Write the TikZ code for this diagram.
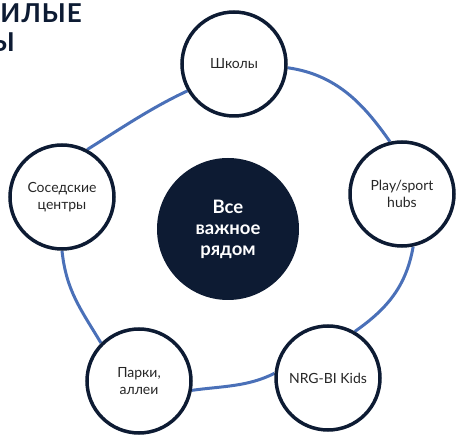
\documentclass[tikz,border=0pt]{standalone}
\usepackage{fontspec}
\setmainfont{Lato}
\usetikzlibrary{backgrounds}
\definecolor{navy}{HTML}{0D1B33}
\definecolor{ringblue}{HTML}{4A70B8}
\definecolor{txt}{HTML}{262626}
\begin{document}
\begin{tikzpicture}[x=1pt,y=1pt,
  sat/.style={circle, draw=navy, line width=3.5pt, fill=white, minimum size=104pt, inner sep=0pt, align=center, font=\fontsize{14}{16.5}\selectfont, text=txt},
  hub/.style={circle, fill=navy, minimum size=142pt, inner sep=0pt, align=center, text=white, font=\fontsize{18.5}{21}\selectfont\bfseries},
  ring/.style={draw=ringblue, line width=3pt},
  title/.style={font=\fontsize{26}{29}\selectfont\bfseries\addfontfeatures{LetterSpace=4}, text=navy, inner sep=0pt}]
\useasboundingbox (0,0) rectangle (458,434);
\node[title, anchor=base east] (t1) at (82,411) {ИЛЫЕ};
\node[title, anchor=base east] (t2) at (15,382) {Ы};
\node[hub] (hub) at (228,205) {Все\\важное\\рядом};
\node[sat] (shk) at (234,370) {Школы};
\node[sat] (play) at (402,240) {Play/sport\\hubs};
\node[sat] (nrg) at (328,56) {NRG-BI Kids};
\node[sat] (park) at (139,53) {Парки,\\аллеи};
\node[sat] (sos) at (62,237) {Соседские\\центры};
\begin{scope}[on background layer]
\draw[ring] (shk.-4) .. controls +(-8:50) and +(125:45) .. (play.103);
\draw[ring] (play.-78) .. controls +(-100:40) and +(35:40) .. (nrg.60);
\draw[ring] (nrg.175) .. controls +(-153:30) and +(8:30) .. (park.-10);
\draw[ring] (park.135) .. controls +(121:40) and +(-84:40) .. (sos.-90);
\draw[ring] (sos.62) .. controls +(32:40) and +(205:40) .. (shk.210);
\end{scope}
\end{tikzpicture}
\end{document}
